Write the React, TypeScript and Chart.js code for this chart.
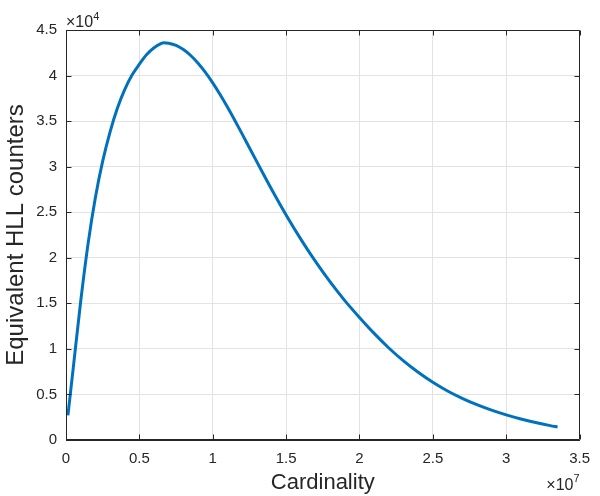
import React, { useEffect, useRef } from "react";
import { Chart, registerables } from "chart.js";

Chart.register(...registerables);

// Cardinality (×10^7)
const cardinality = [
  0.013, 0.05, 0.1, 0.15, 0.2, 0.25, 0.3, 0.35, 0.4, 0.45, 0.5, 0.55, 0.6,
  0.65, 0.665, 0.7, 0.75, 0.8, 0.85, 0.9, 0.95, 1.0, 1.05, 1.1, 1.15, 1.2,
  1.25, 1.3, 1.4, 1.5, 1.6, 1.7, 1.8, 1.9, 2.0, 2.1, 2.2, 2.3, 2.4, 2.5, 2.6,
  2.7, 2.8, 2.9, 3.0, 3.1, 3.2, 3.3, 3.35,
];
// Equivalent HLL counters (×10^4)
const counters = [
  0.27, 0.8, 1.52, 2.15, 2.66, 3.06, 3.38, 3.64, 3.845, 4.005, 4.125, 4.23,
  4.305, 4.352, 4.36, 4.355, 4.33, 4.285, 4.22, 4.135, 4.035, 3.92, 3.792,
  3.655, 3.51, 3.36, 3.207, 3.055, 2.755, 2.47, 2.205, 1.96, 1.735, 1.53,
  1.345, 1.17, 1.01, 0.868, 0.743, 0.633, 0.538, 0.458, 0.388, 0.328, 0.276,
  0.231, 0.192, 0.158, 0.143,
];

const xTicks = [0, 0.5, 1, 1.5, 2, 2.5, 3, 3.5];
const yTicks = [0, 0.5, 1, 1.5, 2, 2.5, 3, 3.5, 4, 4.5];

const xTitle = "Cardinality";
const yTitle = "Equivalent HLL counters";
const xExponent = "7";
const yExponent = "4";

const FONT = "'Liberation Sans', Arial, Helvetica, sans-serif";
const AXIS = "#262626";

const boxPlugin = {
  id: "matlabBox",
  afterDraw(chart: any) {
    const { ctx, chartArea } = chart;
    const { left, right, top, bottom } = chartArea;
    const xs = chart.scales.x;
    const ys = chart.scales.y;
    ctx.save();
    ctx.strokeStyle = AXIS;
    ctx.lineWidth = 1;
    const L = Math.round(left) + 0.5;
    const R = Math.round(right) - 0.5;
    const T = Math.round(top) + 0.5;
    const B = Math.round(bottom) - 0.5;
    ctx.beginPath();
    ctx.rect(L, T, R - L, B - T);
    const tl = 5;
    xTicks.forEach((v) => {
      const px = Math.round(xs.getPixelForValue(v)) + 0.5;
      ctx.moveTo(px, B);
      ctx.lineTo(px, B - tl);
      ctx.moveTo(px, T);
      ctx.lineTo(px, T + tl);
    });
    yTicks.forEach((v) => {
      const py = Math.round(ys.getPixelForValue(v)) + 0.5;
      ctx.moveTo(L, py);
      ctx.lineTo(L + tl, py);
      ctx.moveTo(R, py);
      ctx.lineTo(R - tl, py);
    });
    ctx.stroke();

    // exponent labels
    ctx.fillStyle = AXIS;
    ctx.textBaseline = "alphabetic";
    ctx.textAlign = "left";
    ctx.font = `16px ${FONT}`;
    const base = "\u00d710";
    const bw = ctx.measureText(base).width;
    ctx.fillText(base, left, top - 3);
    ctx.font = `11px ${FONT}`;
    ctx.fillText(yExponent, left + bw, top - 10);

    ctx.font = `11px ${FONT}`;
    const ew = ctx.measureText(xExponent).width;
    ctx.font = `16px ${FONT}`;
    const bx = right - ew - bw;
    ctx.fillText(base, bx, 490);
    ctx.font = `11px ${FONT}`;
    ctx.fillText(xExponent, bx + bw, 482);
    ctx.restore();
  },
};

export default function App() {
  const ref = useRef<HTMLCanvasElement | null>(null);
  useEffect(() => {
    if (!ref.current) return;
    const points = cardinality.map((x, i) => ({ x, y: counters[i] }));
    const chart = new Chart(ref.current, {
      type: "line",
      data: {
        datasets: [
          {
            data: points,
            borderColor: "#0072BD",
            borderWidth: 3,
            pointRadius: 0,
            fill: false,
            cubicInterpolationMode: "monotone",
          },
        ],
      },
      options: {
        responsive: false,
        animation: false,
        devicePixelRatio: 1,
        layout: { padding: { top: 30, right: 13, left: 0, bottom: 0 } },
        plugins: { legend: { display: false }, tooltip: { enabled: false } },
        scales: {
          x: {
            type: "linear",
            min: 0,
            max: 3.5,
            afterFit: (s: any) => {
              s.height = 56;
            },
            afterBuildTicks: (s: any) => {
              s.ticks = xTicks.map((v) => ({ value: v }));
            },
            ticks: {
              padding: 10,
              color: AXIS,
              font: { family: FONT, size: 15 },
              maxRotation: 0,
              callback: (v: any) => String(v),
            },
            grid: { color: "#e3e3e3", drawTicks: false, lineWidth: 1 },
            border: { display: true, color: AXIS },
            title: {
              display: true,
              text: xTitle,
              color: AXIS,
              font: { family: FONT, size: 22, lineHeight: 1.2 },
              padding: { top: 0, bottom: 0 },
            },
          },
          y: {
            type: "linear",
            min: 0,
            max: 4.5,
            afterFit: (s: any) => {
              s.width = 66;
            },
            afterBuildTicks: (s: any) => {
              s.ticks = yTicks.map((v) => ({ value: v }));
            },
            ticks: {
              padding: 9,
              color: AXIS,
              font: { family: FONT, size: 15 },
              callback: (v: any) => String(v),
            },
            grid: { color: "#e3e3e3", drawTicks: false, lineWidth: 1 },
            border: { display: true, color: AXIS },
            title: {
              display: true,
              text: yTitle,
              color: AXIS,
              font: { family: FONT, size: 24, lineHeight: 1.2 },
              padding: { top: 2, bottom: 0 },
            },
          },
        },
      },
      plugins: [boxPlugin],
    });
    return () => chart.destroy();
  }, []);
  return (
    <div style={{ position: "absolute", left: 0, top: 0, width: 600, height: 496, background: "#fff" }}>
      <canvas ref={ref} width={600} height={496} style={{ display: "block" }} />
    </div>
  );
}
